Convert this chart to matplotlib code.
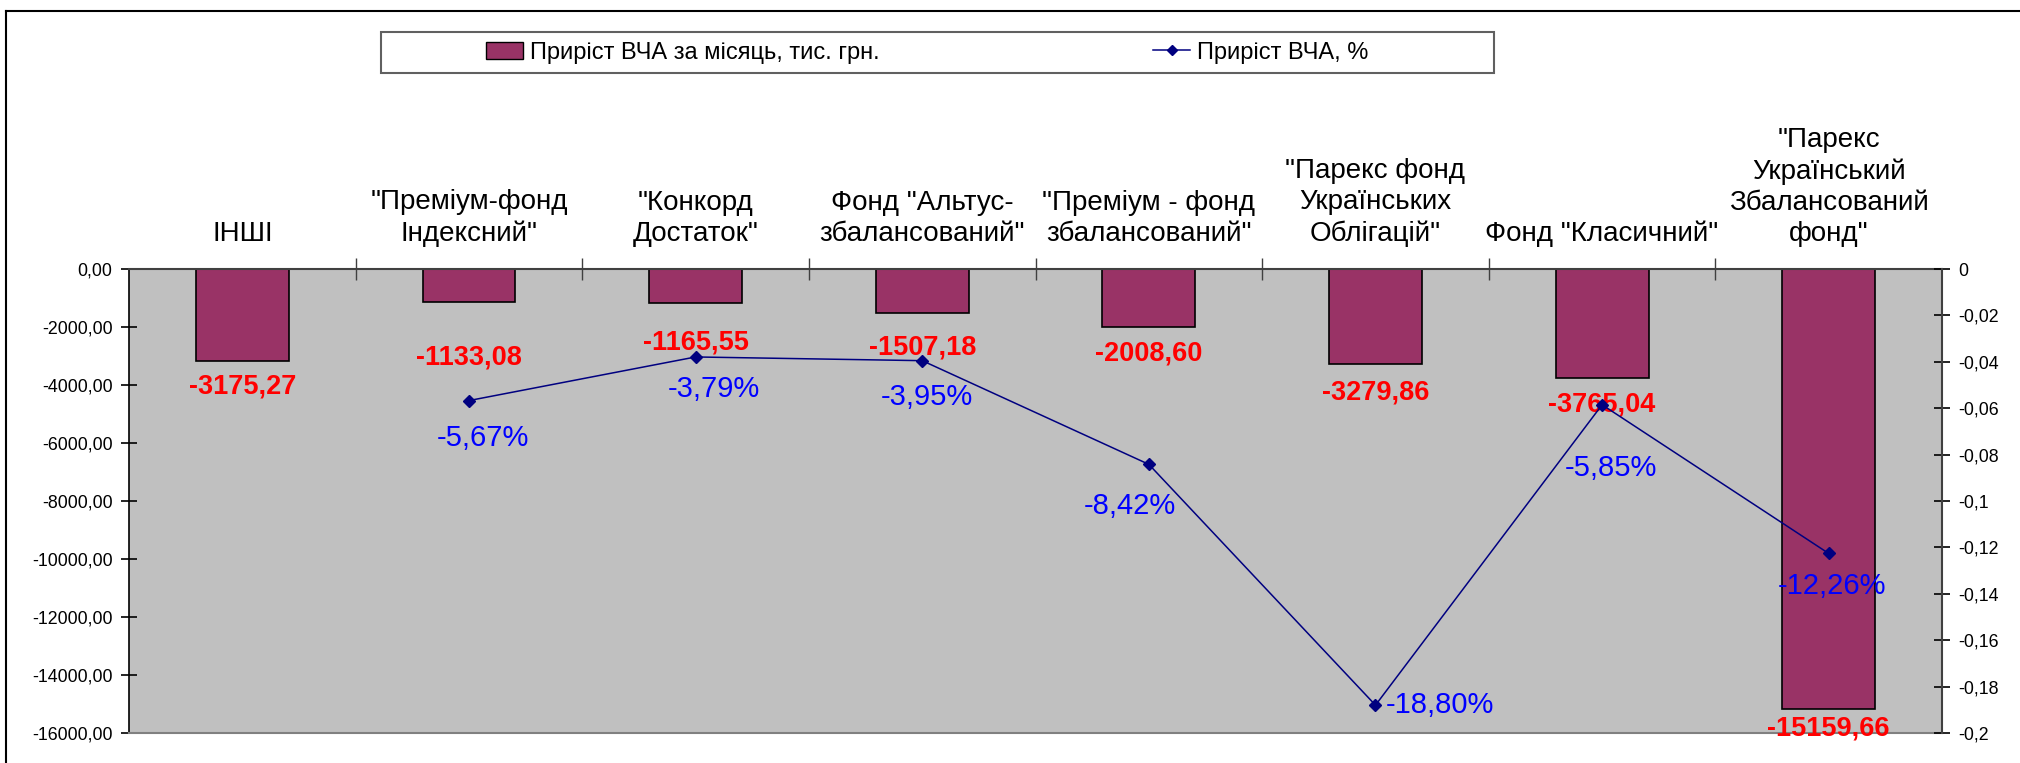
import matplotlib
matplotlib.use('Agg')
import matplotlib.pyplot as plt
from matplotlib.patches import Rectangle, Patch
from matplotlib.lines import Line2D
from matplotlib.ticker import FuncFormatter
import numpy as np

plt.rcParams['font.family'] = ['Liberation Sans', 'DejaVu Sans']

# ---------------- data ----------------
categories = ['ІНШІ', '"Преміум-фонд\nІндексний"', '"Конкорд\nДостаток"',
              'Фонд "Альтус-\nзбалансований"', '"Преміум - фонд\nзбалансований"',
              '"Парекс фонд\nУкраїнських\nОблігацій"', 'Фонд "Класичний"',
              '"Парекс\nУкраїнський\nЗбалансований\nфонд"']
nav_change = [-3175.27, -1133.08, -1165.55, -1507.18, -2008.60, -3279.86, -3765.04, -15159.66]
nav_change_pct = [None, -5.67, -3.79, -3.95, -8.42, -18.80, -5.85, -12.26]
left_ticks = [0, -2000, -4000, -6000, -8000, -10000, -12000, -14000, -16000]
right_ticks = [0, -0.02, -0.04, -0.06, -0.08, -0.1, -0.12, -0.14, -0.16, -0.18, -0.2]
legend_labels = ['Приріст ВЧА за місяць, тис. грн.', 'Приріст ВЧА, %']

# ---------------- layout (pixel offsets for labels) ----------------
bar_label_dy = [25, 56, 40, 35, 26, 28, 26, 20]
pct_label_off = [None, (14, -37), (18, -32), (5, -36), (-19, -42), (10, 0), (9, -63), (3, -33)]

BAR_COLOR = '#993366'
LINE_COLOR = '#000080'

fig = plt.figure(figsize=(20.2, 7.63), dpi=100)
ax = fig.add_axes([0.0639, 0.0393, 0.8975, 0.6081])
ax.set_facecolor('#C0C0C0')

x = np.arange(len(categories))
ax.bar(x, nav_change, width=0.41, color=BAR_COLOR, edgecolor='black', linewidth=1.2, zorder=2)
ax.set_xlim(-0.5, len(categories) - 0.5)
ax.set_ylim(-16000, 0)
ax.set_yticks(left_ticks)

def fmt_left(v, p):
    if abs(v) < 1e-9:
        v = 0.0
    return f"{v:.2f}".replace('.', ',')
ax.yaxis.set_major_formatter(FuncFormatter(fmt_left))
ax.tick_params(axis='y', direction='inout', length=12, width=1.2, labelsize=12.75, pad=6, colors='black')

# categories on top (zero line)
ax.xaxis.tick_top()
ax.set_xticks(x)
ax.set_xticklabels(categories, fontsize=20, linespacing=1.25)
ax.tick_params(axis='x', which='major', length=0, pad=16)
ax.set_xticks(np.arange(0.5, len(categories) - 0.5, 1.0), minor=True)
ax.tick_params(axis='x', which='minor', direction='inout', length=16, width=1.0, color='#404040', top=True, bottom=False)

ax.spines['left'].set_color('black'); ax.spines['left'].set_linewidth(1.2)
ax.spines['top'].set_color('#404040'); ax.spines['top'].set_linewidth(1.5)
ax.spines['bottom'].set_color('#808080'); ax.spines['bottom'].set_linewidth(1.5)
ax.spines['right'].set_visible(False)

# bar labels
for i, v in enumerate(nav_change):
    ax.annotate(f"{v:.2f}".replace('.', ','), xy=(x[i], v), xytext=(0, -bar_label_dy[i]),
                textcoords='offset pixels', ha='center', va='center', color='#FF0000',
                fontsize=19.5, fontweight='bold', zorder=5)

# secondary axis with line
ax2 = ax.twinx()
ax2.set_ylim(-0.2, 0)
ax2.set_yticks(right_ticks)

def fmt_right(v, p):
    if abs(v) < 1e-9:
        return '0'
    return f"{v:g}".replace('.', ',')
ax2.yaxis.set_major_formatter(FuncFormatter(fmt_right))
ax2.tick_params(axis='y', direction='inout', length=12, width=1.2, labelsize=12.75, pad=6, colors='black')
for s in ['left', 'top', 'bottom']:
    ax2.spines[s].set_visible(False)
ax2.spines['right'].set_color('#404040'); ax2.spines['right'].set_linewidth(1.5)

lx = [x[i] for i, p in enumerate(nav_change_pct) if p is not None]
ly = [p / 100.0 for p in nav_change_pct if p is not None]
ax2.plot(lx, ly, color=LINE_COLOR, linewidth=1.1, marker='D', markersize=6.5,
         markerfacecolor=LINE_COLOR, markeredgecolor=LINE_COLOR, zorder=4)

for i, p in enumerate(nav_change_pct):
    if p is None:
        continue
    dx, dy = pct_label_off[i]
    ha = 'left' if (dx == 10 and dy == 0) else 'center'
    ax2.annotate(f"{p:.2f}%".replace('.', ','), xy=(x[i], p / 100.0), xytext=(dx, dy),
                 textcoords='offset pixels', ha=ha, va='center', color='#0000FF', fontsize=21, zorder=6)

# legend box
fig.patches.append(Rectangle((0.1886, 0.9043), 0.551, 0.0537, transform=fig.transFigure,
                             facecolor='white', edgecolor='#606060', linewidth=1.5, zorder=0))
handles = [Patch(facecolor=BAR_COLOR, edgecolor='black', linewidth=1.0),
           Line2D([], [], color=LINE_COLOR, marker='D', markersize=5, linewidth=1.1)]
fig.legend(handles, legend_labels, ncol=2, frameon=False, loc='center',
           bbox_to_anchor=(0.459, 0.931), columnspacing=11.6, fontsize=17,
           handlelength=1.55, handletextpad=0.3)

# chart area border (clipped at right and bottom)
x0 = 6 / 2020
y0 = 1 - 11 / 763
fig.add_artist(Line2D([x0, x0], [0, y0], transform=fig.transFigure, color='black', linewidth=1.5))
fig.add_artist(Line2D([x0, 1], [y0, y0], transform=fig.transFigure, color='black', linewidth=1.5))

fig.savefig('out.png', dpi=100)
